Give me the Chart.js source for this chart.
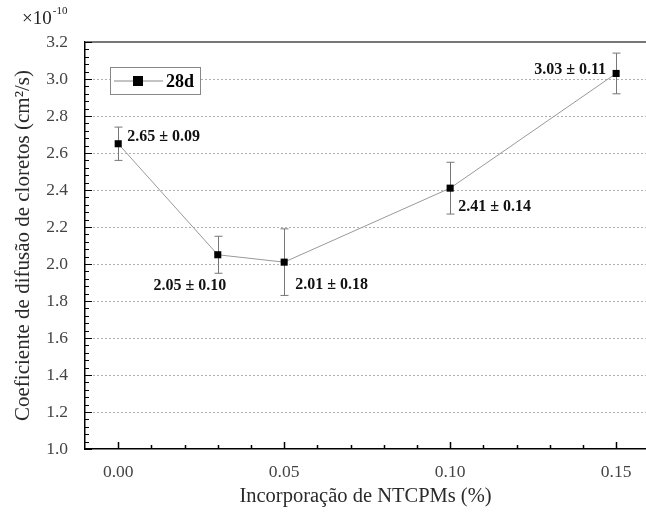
<!DOCTYPE html>
<html>
<head>
<meta charset="utf-8">
<script src="https://cdn.jsdelivr.net/npm/chart.js@4/dist/chart.umd.min.js"></script>
<style>
  html, body { margin: 0; padding: 0; background: #fff; overflow: hidden; }
  #wrap { width: 646px; height: 515px; }
</style>
</head>
<body>
<div id="wrap"><canvas id="chart" width="646" height="515"></canvas></div>
<script>
const xValues = [0.00, 0.03, 0.05, 0.10, 0.15];
const yValues = [2.65, 2.05, 2.01, 2.41, 3.03];
const yErrors = [0.09, 0.10, 0.18, 0.14, 0.11];
const xTicks = [0.00, 0.05, 0.10, 0.15];
const yTicks = [1.0, 1.2, 1.4, 1.6, 1.8, 2.0, 2.2, 2.4, 2.6, 2.8, 3.0, 3.2];
const seriesName = '28d';

const serif = '"Liberation Serif", "DejaVu Serif", serif';

// where each value label sits relative to its point: [dx, dy, align]
const labelPlace = [
    [9, -7, 'left'],
    [-28, 31, 'center'],
    [11, 23, 'left'],
    [8, 19, 'left'],
    [-10, -4, 'right']
];

const decorPlugin = {
    id: 'decor',
    beforeDatasetsDraw(chart) {
        const ctx = chart.ctx;
        const area = chart.chartArea;
        const xs = chart.scales.x;
        const ys = chart.scales.y;
        ctx.save();

        // dotted horizontal grid
        ctx.strokeStyle = '#b0b0b0';
        ctx.lineWidth = 1;
        ctx.setLineDash([2, 2]);
        yTicks.forEach(v => {
            if (v <= ys.min || v >= ys.max) return;
            const py = Math.round(ys.getPixelForValue(v)) + 0.5;
            ctx.beginPath();
            ctx.moveTo(area.left, py);
            ctx.lineTo(area.right, py);
            ctx.stroke();
        });
        ctx.setLineDash([]);

        // top frame line
        ctx.strokeStyle = '#777';
        ctx.lineWidth = 2;
        ctx.beginPath();
        ctx.moveTo(area.left, area.top);
        ctx.lineTo(area.right, area.top);
        ctx.stroke();

        // inward ticks, y axis
        ctx.strokeStyle = '#000';
        ctx.lineWidth = 1;
        for (let i = 0; i <= 55; i++) {
            const v = 1.0 + i * 0.04;
            const py = Math.round(ys.getPixelForValue(v)) + 0.5;
            const major = i % 5 === 0;
            ctx.beginPath();
            ctx.moveTo(area.left, py);
            ctx.lineTo(area.left + (major ? 7 : 4), py);
            ctx.stroke();
        }
        // inward ticks, x axis
        ctx.lineWidth = 1.5;
        for (let i = 0; i <= 15; i++) {
            const v = i * 0.01;
            const px = Math.round(xs.getPixelForValue(v)) + 0.5;
            const major = i % 5 === 0;
            ctx.beginPath();
            ctx.moveTo(px, area.bottom);
            ctx.lineTo(px, area.bottom - (major ? 7 : 4));
            ctx.stroke();
        }

        // error bars
        ctx.strokeStyle = '#777';
        ctx.lineWidth = 1;
        xValues.forEach((x, i) => {
            const px = Math.round(xs.getPixelForValue(x)) + 0.5;
            const top = ys.getPixelForValue(yValues[i] + yErrors[i]);
            const bot = ys.getPixelForValue(yValues[i] - yErrors[i]);
            ctx.beginPath();
            ctx.moveTo(px, top);
            ctx.lineTo(px, bot);
            ctx.moveTo(px - 4, top);
            ctx.lineTo(px + 4, top);
            ctx.moveTo(px - 4, bot);
            ctx.lineTo(px + 4, bot);
            ctx.stroke();
        });

        // exponent at the top of the y axis
        ctx.fillStyle = '#222';
        ctx.textAlign = 'left';
        ctx.textBaseline = 'alphabetic';
        ctx.font = '19px ' + serif;
        ctx.fillText('×10', area.left - 63, 24);
        const w = ctx.measureText('×10').width;
        ctx.font = '11px ' + serif;
        ctx.fillText('-10', area.left - 63 + w + 1, 14);
        ctx.restore();
    },
    afterDatasetsDraw(chart) {
        const ctx = chart.ctx;
        const area = chart.chartArea;
        const xs = chart.scales.x;
        const ys = chart.scales.y;
        ctx.save();

        // value labels
        ctx.fillStyle = '#111';
        ctx.font = 'bold 16px ' + serif;
        ctx.textBaseline = 'middle';
        xValues.forEach((x, i) => {
            const px = xs.getPixelForValue(x);
            const py = ys.getPixelForValue(yValues[i]);
            const [dx, dy, align] = labelPlace[i];
            ctx.textAlign = align;
            ctx.fillText(yValues[i].toFixed(2) + ' ± ' + yErrors[i].toFixed(2), px + dx, py + dy);
        });

        // legend box
        const lx = area.left + 25, ly = area.top + 25;
        ctx.fillStyle = '#fff';
        ctx.fillRect(lx, ly, 90, 27);
        ctx.strokeStyle = '#888';
        ctx.lineWidth = 1;
        ctx.strokeRect(lx + 0.5, ly + 0.5, 90, 27);
        ctx.strokeStyle = '#888';
        ctx.beginPath();
        ctx.moveTo(lx + 4, ly + 14);
        ctx.lineTo(lx + 53, ly + 14);
        ctx.stroke();
        ctx.fillStyle = '#000';
        ctx.fillRect(lx + 23, ly + 9, 10, 10);
        ctx.font = 'bold 18px ' + serif;
        ctx.textAlign = 'left';
        ctx.textBaseline = 'middle';
        ctx.fillText(seriesName, lx + 56, ly + 15);
        ctx.restore();
    }
};

new Chart(document.getElementById('chart'), {
    type: 'scatter',
    data: {
        datasets: [{
            label: seriesName,
            data: xValues.map((x, i) => ({ x: x, y: yValues[i] })),
            showLine: true,
            borderColor: '#999',
            borderWidth: 1,
            backgroundColor: '#000',
            pointStyle: 'rect',
            pointRadius: 5,
            pointBorderColor: '#000',
            pointBorderWidth: 0
        }]
    },
    options: {
        responsive: false,
        animation: false,
        layout: { autoPadding: false, padding: { top: 42, left: 0, right: 0, bottom: 0 } },
        plugins: {
            legend: { display: false },
            tooltip: { enabled: false }
        },
        scales: {
            x: {
                type: 'linear',
                min: -0.01,
                max: 0.159,
                afterFit: s => { s.height = 66; },
                afterBuildTicks: s => { s.ticks = xTicks.map(v => ({ value: v })); },
                grid: { display: false },
                border: { display: true, color: '#000', width: 1.5 },
                ticks: {
                    padding: 5,
                    color: '#444',
                    font: { family: serif, size: 17.5 },
                    callback: v => Number(v).toFixed(2)
                },
                title: {
                    display: true,
                    text: 'Incorporação de NTCPMs (%)',
                    color: '#2a2a2a',
                    font: { family: serif, size: 20.5 },
                    padding: { top: 0, bottom: 6 }
                }
            },
            y: {
                min: 1.0,
                max: 3.2,
                afterFit: s => { s.width = 85; },
                afterBuildTicks: s => { s.ticks = yTicks.map(v => ({ value: v })); },
                grid: { display: false },
                border: { display: true, color: '#000', width: 1.5 },
                ticks: {
                    padding: 9,
                    color: '#444',
                    font: { family: serif, size: 17.5 },
                    callback: v => Number(v).toFixed(1)
                },
                title: {
                    display: true,
                    text: 'Coeficiente de difusão de cloretos (cm²/s)',
                    color: '#2a2a2a',
                    font: { family: serif, size: 21 },
                    padding: { top: 11, bottom: 0 }
                }
            }
        }
    },
    plugins: [decorPlugin]
});
</script>
</body>
</html>
